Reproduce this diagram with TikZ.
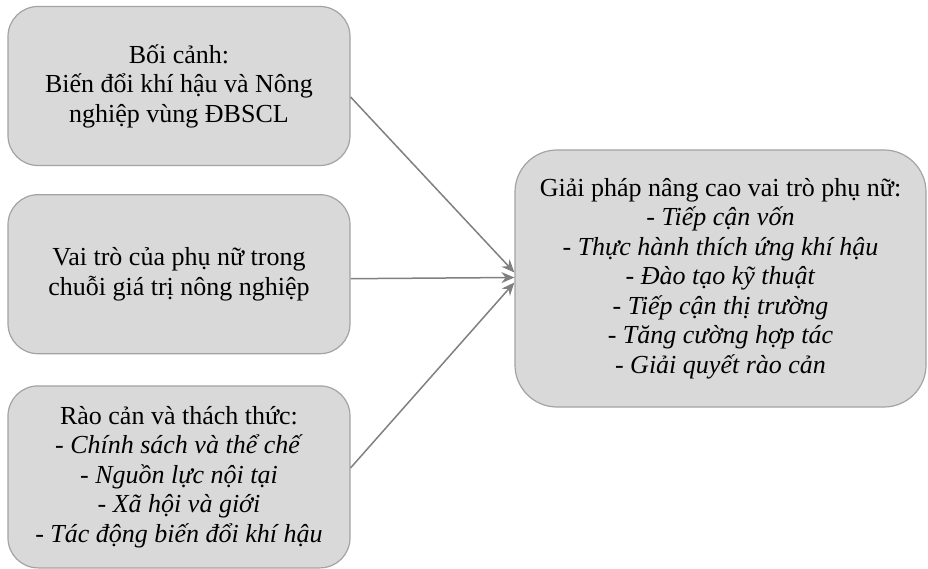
\documentclass[tikz,border=0pt]{standalone}
\usepackage{fontspec}
\setmainfont{Liberation Serif}
\usepackage{xcolor}
\usepackage{tikz}
\usetikzlibrary{arrows.meta, positioning}
\definecolor{boxfill}{HTML}{D9D9D9}
\definecolor{boxline}{HTML}{A3A3A3}
\definecolor{arrowgray}{HTML}{808080}
\tikzstyle{leftbox} = [rectangle, rounded corners=30pt, minimum width=342pt,
 text centered, align=center, draw=boxline, line width=1.2pt, fill=boxfill,
 font=\fontsize{26}{29.5}\selectfont]
\tikzstyle{resultbox} = [rectangle, rounded corners=42pt, minimum width=411pt,
 minimum height=257pt, text centered, align=center, draw=boxline,
 line width=1.2pt, fill=boxfill, font=\fontsize{26}{29.5}\selectfont]
\tikzstyle{arrow} = [draw=arrowgray, line width=1.5pt,
 -{Stealth[length=13pt,width=11pt]}]

\begin{document}
\begin{tikzpicture}
\useasboundingbox (0pt,0pt) rectangle (928pt,-569pt);
\node(context) [leftbox, minimum height=159pt] at (179pt,-86pt)
 {Bối cảnh:\\Biến đổi khí hậu và Nông\\nghiệp vùng ĐBSCL};
\node(role) [leftbox, minimum height=159pt, below=28pt of context]
 {Vai trò của phụ nữ trong\\chuỗi giá trị nông nghiệp};
\node(barriers) [leftbox, minimum height=182pt, below=31pt of role]
 {Rào cản và thách thức:\\\textit{- Chính sách và thể chế}\\\textit{- Nguồn lực nội tại}\\\textit{- Xã hội và giới}\\\textit{- Tác động biến đổi khí hậu}};
\node(solutions) [resultbox] at (720.5pt,-278.5pt)
 {Giải pháp nâng cao vai trò phụ nữ:\\\textit{- Tiếp cận vốn}\\\textit{- Thực hành thích ứng khí hậu}\\\textit{- Đào tạo kỹ thuật}\\\textit{- Tiếp cận thị trường}\\\textit{- Tăng cường hợp tác}\\\textit{- Giải quyết rào cản}};
\draw[arrow] ([yshift=-11pt]context.east) -- ([yshift=6pt]solutions.west);
\draw[arrow] ([yshift=-4.5pt]role.east) -- ([yshift=1pt]solutions.west);
\draw[arrow] ([yshift=9pt]barriers.east) -- ([yshift=-4pt]solutions.west);
\end{tikzpicture}
\end{document}
